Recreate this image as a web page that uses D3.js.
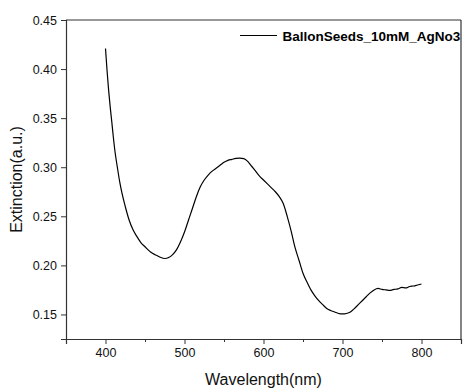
<!DOCTYPE html>
<html><head><meta charset="utf-8">
<script src="https://cdn.jsdelivr.net/npm/d3@7"></script>
<style>body{margin:0;background:#fff}svg{display:block}text{font-family:"Liberation Sans",Arial,sans-serif}</style>
</head><body>
<script>
const wavelengths = [400,402,404,406,408,410,412,415,418,421,425,430,435,440,445,450,455,460,465,470,475,480,485,490,495,500,505,510,515,520,525,530,535,540,545,550,555,560,565,570,575,580,585,590,595,600,605,610,615,620,625,630,635,640,645,650,655,660,665,670,675,680,685,690,695,700,705,710,715,720,725,730,735,740,745,750,755,760,765,770,775,780,785,790,795,800];
const extinction = [0.421,0.398,0.378,0.361,0.346,0.330,0.316,0.300,0.285,0.273,0.260,0.246,0.236,0.229,0.223,0.219,0.215,0.212,0.210,0.208,0.207,0.208,0.211,0.216,0.224,0.234,0.246,0.258,0.270,0.280,0.287,0.292,0.296,0.299,0.302,0.305,0.307,0.308,0.309,0.3093,0.3088,0.306,0.301,0.296,0.291,0.287,0.283,0.279,0.275,0.270,0.263,0.250,0.235,0.218,0.205,0.192,0.183,0.175,0.169,0.164,0.160,0.156,0.154,0.1525,0.151,0.1505,0.151,0.1525,0.156,0.160,0.164,0.168,0.172,0.175,0.1765,0.1755,0.175,0.1745,0.1755,0.176,0.1775,0.177,0.1785,0.179,0.180,0.181];
const xTicks = [400,500,600,700,800];
const xMinorTicks = [350,450,550,650,750,850];
const yTicks = [0.15,0.20,0.25,0.30,0.35,0.40,0.45];
const seriesName = "BallonSeeds_10mM_AgNo3";
const xTitle = "Wavelength(nm)";
const yTitle = "Extinction(a.u.)";

const W = 464, H = 390;
const m = {left:66, right:3, top:20, bottom:51};
const svg = d3.select("body").append("svg").attr("width",W).attr("height",H);
const x = d3.scaleLinear().domain([350,850]).range([m.left, W-m.right]);
const y = d3.scaleLinear().domain([0.125,0.45]).range([H-m.bottom, m.top]);

const axisColor = "#333";
svg.append("line").attr("x1",x(350)).attr("x2",x(850)).attr("y1",y(0.45)).attr("y2",y(0.45)).attr("stroke",axisColor).attr("stroke-width",1.2);
svg.append("line").attr("x1",x(850)).attr("x2",x(850)).attr("y1",y(0.45)).attr("y2",y(0.125)).attr("stroke",axisColor).attr("stroke-width",1.2);

const gx = svg.append("g").attr("transform",`translate(0,${y(0.125)})`)
  .call(d3.axisBottom(x).tickValues(xTicks).tickFormat(d3.format("d")).tickSizeOuter(0).tickSize(5).tickPadding(4));
svg.append("g").attr("transform",`translate(0,${y(0.125)})`)
  .call(d3.axisBottom(x).tickValues(xMinorTicks).tickFormat("").tickSizeOuter(0).tickSize(3))
  .call(g=>g.select(".domain").remove())
  .selectAll("line").attr("stroke",axisColor);
const gy = svg.append("g").attr("transform",`translate(${x(350)},0)`)
  .call(d3.axisLeft(y).tickValues(yTicks).tickFormat(d3.format(".2f")).tickSizeOuter(0).tickSize(5).tickPadding(4));
[gx,gy].forEach(g=>{
  g.select(".domain").attr("stroke",axisColor).attr("stroke-width",1.2);
  g.selectAll(".tick line").attr("stroke",axisColor);
  g.selectAll(".tick text").attr("font-size",12.5).attr("fill","#111").style("font-family","'Liberation Sans',Arial,sans-serif");
});

const line = d3.line().x((d,i)=>x(wavelengths[i])).y(d=>y(d)).curve(d3.curveMonotoneX);
svg.append("path").datum(extinction).attr("d",line).attr("fill","none").attr("stroke","#000").attr("stroke-width",1.2);

svg.append("line").attr("x1",240).attr("x2",277).attr("y1",35.5).attr("y2",35.5).attr("stroke","#000").attr("stroke-width",1.2);
svg.append("text").attr("x",282.5).attr("y",41).attr("font-size",13.5).attr("font-weight","bold").attr("fill","#000").text(seriesName);

svg.append("text").attr("x",(x(350)+x(850))/2).attr("y",385).attr("text-anchor","middle").attr("font-size",16).attr("fill","#111").text(xTitle);
svg.append("text").attr("transform",`translate(22,${(y(0.125)+y(0.45))/2}) rotate(-90)`).attr("text-anchor","middle").attr("font-size",16).attr("fill","#111").text(yTitle);
</script>
</body></html>
